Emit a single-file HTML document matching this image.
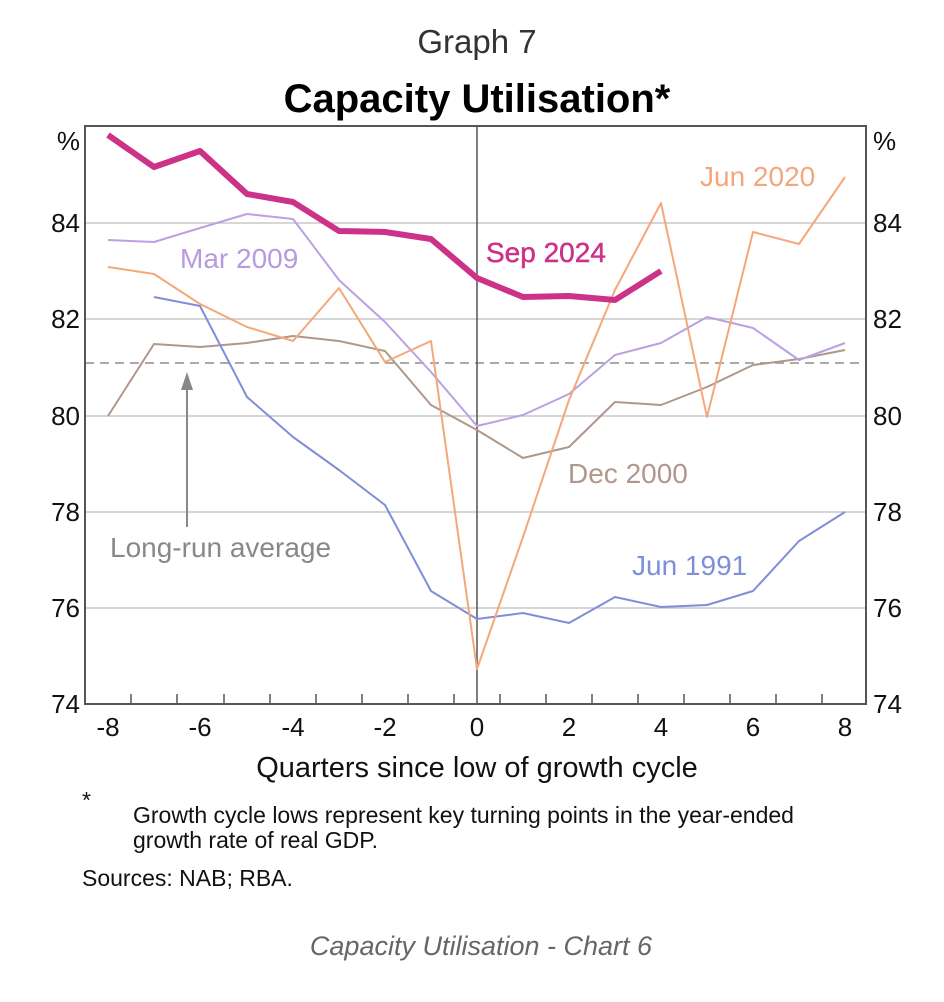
<!DOCTYPE html>
<html><head><style>body{margin:0;background:#fff}svg{display:block}</style></head><body>
<svg width="944" height="1002" viewBox="0 0 944 1002" font-family="Liberation Sans, Arial, sans-serif">
<text x="477" y="53" font-size="33" text-anchor="middle" fill="#333">Graph 7</text>
<text x="477" y="112" font-size="40" font-weight="bold" text-anchor="middle" fill="#000">Capacity Utilisation*</text>
<g stroke="#c8c8c8" stroke-width="1.5">
<line x1="85" y1="223" x2="866" y2="223"/><line x1="85" y1="319" x2="866" y2="319"/><line x1="85" y1="416" x2="866" y2="416"/><line x1="85" y1="512" x2="866" y2="512"/><line x1="85" y1="608" x2="866" y2="608"/>
</g>
<line x1="85" y1="363" x2="866" y2="363" stroke="#aaa" stroke-width="2" stroke-dasharray="9,6"/>
<line x1="477" y1="126" x2="477" y2="704" stroke="#555" stroke-width="1.5"/>
<rect x="85" y="126" width="781" height="578" fill="none" stroke="#555" stroke-width="2"/>
<g stroke="#555" stroke-width="1.5">
<line x1="131" y1="704" x2="131" y2="694"/><line x1="177" y1="704" x2="177" y2="694"/><line x1="224" y1="704" x2="224" y2="694"/><line x1="270" y1="704" x2="270" y2="694"/><line x1="316" y1="704" x2="316" y2="694"/><line x1="362" y1="704" x2="362" y2="694"/><line x1="408" y1="704" x2="408" y2="694"/><line x1="454" y1="704" x2="454" y2="694"/><line x1="500" y1="704" x2="500" y2="694"/><line x1="546" y1="704" x2="546" y2="694"/><line x1="592" y1="704" x2="592" y2="694"/><line x1="638" y1="704" x2="638" y2="694"/><line x1="684" y1="704" x2="684" y2="694"/><line x1="730" y1="704" x2="730" y2="694"/><line x1="776" y1="704" x2="776" y2="694"/><line x1="822" y1="704" x2="822" y2="694"/>
</g>
<g fill="none" stroke-linejoin="round">
<polyline stroke="#b0978b" stroke-width="2" points="108,416 154,344 200,347 247,343 293,336 339,341 385,351 431,405 477,430 523,458 569,447 615,402 661,405 707,387 753,365 799,359 845,350"/>
<polyline stroke="#7f8ed8" stroke-width="2" points="154,297 200,306 247,397 293,437 339,470 385,505 431,591 477,619 523,613 569,623 615,597 661,607 707,605 753,591 799,541 845,512"/>
<polyline stroke="#bba0e2" stroke-width="2" points="108,240 154,242 200,228 247,214 293,219 339,280 385,322 431,372 477,426 523,415 569,394 615,355 661,343 707,317 753,328 799,360 845,343"/>
<polyline stroke="#f5a77c" stroke-width="2" points="108,267 154,274 200,304 247,327 293,341 339,288 385,362 431,341 477,669 523,537 569,400 615,290 661,203 707,417 753,232 799,244 845,177"/>
<polyline stroke="#cc3388" stroke-width="6" points="108,135 154,167 200,151 247,194 293,202 339,231 385,232 431,239 477,278 523,297 569,296 615,300 661,271"/>
</g>
<line x1="187" y1="527" x2="187" y2="385" stroke="#888" stroke-width="2"/>
<polygon points="187,372 181,390 193,390" fill="#888"/>
<g font-size="28">
<text x="180" y="268" fill="#b79ae0">Mar 2009</text>
<text x="486" y="262" fill="#cc3388" stroke="#cc3388" stroke-width="0.5">Sep 2024</text>
<text x="700" y="186" fill="#f5a77c">Jun 2020</text>
<text x="568" y="483" fill="#b0978b">Dec 2000</text>
<text x="632" y="575" fill="#7f8ed8">Jun 1991</text>
<text x="110" y="557" fill="#888">Long-run average</text>
</g>
<g font-size="26" fill="#111">
<text x="80" y="150" text-anchor="end">%</text>
<text x="80" y="232" text-anchor="end">84</text><text x="80" y="328" text-anchor="end">82</text><text x="80" y="425" text-anchor="end">80</text><text x="80" y="521" text-anchor="end">78</text><text x="80" y="617" text-anchor="end">76</text><text x="80" y="713" text-anchor="end">74</text>
<text x="873" y="150">%</text>
<text x="873" y="232">84</text><text x="873" y="328">82</text><text x="873" y="425">80</text><text x="873" y="521">78</text><text x="873" y="617">76</text><text x="873" y="713">74</text>
<text x="108" y="736" text-anchor="middle">-8</text><text x="200" y="736" text-anchor="middle">-6</text><text x="293" y="736" text-anchor="middle">-4</text><text x="385" y="736" text-anchor="middle">-2</text><text x="477" y="736" text-anchor="middle">0</text><text x="569" y="736" text-anchor="middle">2</text><text x="661" y="736" text-anchor="middle">4</text><text x="753" y="736" text-anchor="middle">6</text><text x="845" y="736" text-anchor="middle">8</text>
<text x="477" y="777" font-size="29" text-anchor="middle">Quarters since low of growth cycle</text>
</g>
<g font-size="23" fill="#111">
<text x="82" y="808">*</text>
<text x="133" y="823">Growth cycle lows represent key turning points in the year-ended</text>
<text x="133" y="848">growth rate of real GDP.</text>
<text x="82" y="886">Sources: NAB; RBA.</text>
</g>
<text x="481" y="955" font-size="27" font-style="italic" text-anchor="middle" fill="#666">Capacity Utilisation - Chart 6</text>
</svg>
</body></html>
